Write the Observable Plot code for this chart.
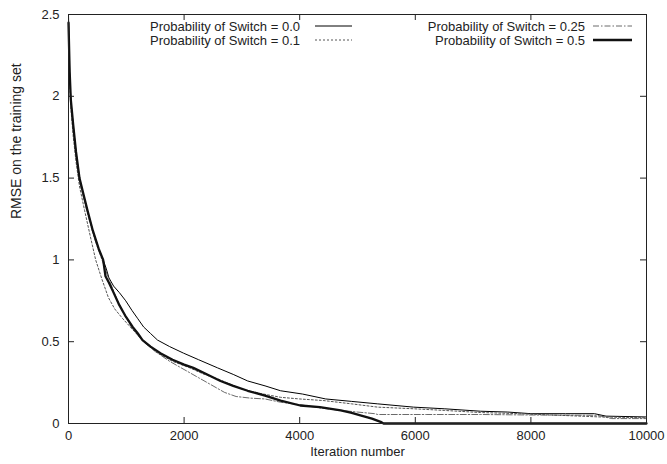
<!DOCTYPE html>
<html>
<head>
<meta charset="utf-8">
<script src="https://cdn.jsdelivr.net/npm/d3@7"></script>
<script src="https://cdn.jsdelivr.net/npm/@observablehq/plot@0.6"></script>
<style>
  html, body { margin: 0; padding: 0; background: white; }
</style>
</head>
<body>
<div id="chart"></div>
<script>
// ---- data ----
const seriesNames = ["Probability of Switch = 0.0", "Probability of Switch = 0.1", "Probability of Switch = 0.25", "Probability of Switch = 0.5"];

const iter00 = [0, 20, 40, 80, 130, 190, 260, 330, 420, 520, 600, 650, 700, 780, 880, 990, 1100, 1200, 1300, 1420, 1540, 1750, 1990, 2250, 2580, 2850, 3100, 3400, 3670, 4050, 4450, 4900, 5350, 5970, 6500, 7130, 7600, 8000, 8600, 9100, 9300, 10000];
const rmse00 = [2.5, 2.15, 1.98, 1.83, 1.66, 1.5, 1.4, 1.3, 1.18, 1.07, 1.0, 0.95, 0.89, 0.84, 0.8, 0.75, 0.69, 0.64, 0.59, 0.55, 0.51, 0.47, 0.43, 0.39, 0.34, 0.30, 0.26, 0.23, 0.20, 0.18, 0.15, 0.135, 0.12, 0.10, 0.09, 0.075, 0.07, 0.06, 0.06, 0.06, 0.045, 0.04];

const iter01 = [0, 20, 40, 80, 130, 190, 280, 380, 470, 580, 690, 800, 940, 1070, 1250, 1400, 1550, 1800, 2100, 2350, 2600, 2800, 3000, 3300, 3670, 4000, 4420, 4900, 5350, 5970, 6500, 7130, 7800, 8500, 9200, 10000];
const rmse01 = [2.4, 2.1, 1.93, 1.76, 1.6, 1.45, 1.3, 1.14, 1.0, 0.88, 0.77, 0.7, 0.64, 0.59, 0.52, 0.47, 0.43, 0.38, 0.34, 0.3, 0.27, 0.24, 0.21, 0.185, 0.16, 0.15, 0.14, 0.12, 0.10, 0.09, 0.08, 0.067, 0.06, 0.05, 0.04, 0.035];

const iter025 = [0, 20, 40, 80, 130, 190, 260, 330, 450, 580, 700, 850, 980, 1100, 1300, 1500, 1750, 2000, 2250, 2500, 2700, 2900, 3150, 3400, 3670, 4000, 4350, 4710, 5000, 5300, 5350, 6200, 7130, 8000, 9150, 9400, 10000];
const rmse025 = [2.45, 2.12, 1.96, 1.8, 1.63, 1.48, 1.38, 1.28, 1.13, 1.0, 0.88, 0.75, 0.66, 0.58, 0.5, 0.44, 0.38, 0.33, 0.28, 0.23, 0.19, 0.165, 0.155, 0.15, 0.13, 0.115, 0.095, 0.08, 0.07, 0.06, 0.055, 0.055, 0.055, 0.052, 0.05, 0.03, 0.03];

const iter05 = [0, 20, 40, 80, 130, 190, 260, 330, 420, 520, 600, 640, 700, 780, 870, 980, 1110, 1200, 1280, 1420, 1590, 1800, 2000, 2160, 2400, 2630, 2850, 3100, 3400, 3670, 4010, 4350, 4710, 4900, 5050, 5250, 5400, 5450, 10000];
const rmse05 = [2.45, 2.15, 1.98, 1.83, 1.66, 1.5, 1.4, 1.3, 1.18, 1.07, 1.0, 0.9, 0.86, 0.8, 0.73, 0.66, 0.59, 0.55, 0.51, 0.47, 0.43, 0.39, 0.36, 0.34, 0.3, 0.26, 0.23, 0.2, 0.17, 0.14, 0.11, 0.1, 0.08, 0.065, 0.05, 0.03, 0.01, 0, 0];

const xTicks = [0, 2000, 4000, 6000, 8000, 10000];
const yTicks = [0, 0.5, 1, 1.5, 2, 2.5];

// ---- styles (kept separate from data) ----
const styles = [
  {stroke: "#000", strokeWidth: 1, dash: null},
  {stroke: "#555", strokeWidth: 1, dash: "2,2"},
  {stroke: "#444", strokeWidth: 0.8, dash: "6,2,1.5,2"},
  {stroke: "#111", strokeWidth: 2.3, dash: null}
];

const toRows = (xs, ys) => xs.map((x, i) => ({x, y: ys[i]}));
const rows = [toRows(iter00, rmse00), toRows(iter01, rmse01), toRows(iter025, rmse025), toRows(iter05, rmse05)];

const W = 667, H = 464, mL = 68, mR = 21, mT = 14, mB = 41;
const pw = W - mL - mR, ph = H - mT - mB, tk = 6;

const lineMarks = rows.map((r, i) => Plot.line(r, {
  x: "x", y: "y",
  stroke: styles[i].stroke,
  strokeWidth: styles[i].strokeWidth,
  strokeDasharray: styles[i].dash,
  strokeLinejoin: "round"
}));

// legend positions: [textEndX, lineStartX, lineEndX, centerY]
const legendLayout = [[300, 315, 352, 26], [300, 315, 352, 40], [585, 593, 632, 26], [585, 593, 632, 40]];

function legendMark() {
  const g = d3.create("svg:g");
  seriesNames.forEach((name, i) => {
    const [tx, l1, l2, cy] = legendLayout[i];
    g.append("text")
      .attr("x", tx).attr("y", cy)
      .attr("text-anchor", "end")
      .attr("dominant-baseline", "central")
      .attr("fill", "#222")
      .text(name);
    const ln = g.append("line")
      .attr("x1", l1).attr("x2", l2).attr("y1", cy).attr("y2", cy)
      .attr("stroke", styles[i].stroke)
      .attr("stroke-width", styles[i].strokeWidth);
    if (styles[i].dash) ln.attr("stroke-dasharray", styles[i].dash);
  });
  return g.node();
}

const chart = Plot.plot({
  width: W, height: H,
  marginLeft: mL, marginRight: mR, marginTop: mT, marginBottom: mB,
  x: {domain: [0, 10000]},
  y: {domain: [0, 2.5]},
  style: {fontFamily: "'Liberation Sans', Arial, sans-serif", fontSize: "13px", color: "#222", background: "white"},
  marks: [
    ...lineMarks,
    Plot.frame({stroke: "#222", strokeWidth: 1}),
    Plot.tickX(xTicks, {x: d => d, insetTop: ph - tk, stroke: "#222"}),
    Plot.tickX(xTicks, {x: d => d, insetBottom: ph - tk, stroke: "#222"}),
    Plot.tickY(yTicks, {y: d => d, insetRight: pw - tk, stroke: "#222"}),
    Plot.tickY(yTicks, {y: d => d, insetLeft: pw - tk, stroke: "#222"}),
    Plot.axisX({ticks: xTicks, tickSize: 0, tickPadding: 7, tickFormat: d => String(d), label: null}),
    Plot.axisY({ticks: yTicks, tickSize: 0, tickPadding: 9, tickFormat: d => String(d), label: null}),
    Plot.text(["Iteration number"], {text: d => d, frameAnchor: "bottom", dy: 32, fill: "#222"}),
    Plot.text(["RMSE on the training set"], {text: d => d, frameAnchor: "left", dx: -52, rotate: -90, fill: "#222", fontSize: 14}),
    legendMark
  ]
});

document.getElementById("chart").appendChild(chart);
</script>
</body>
</html>
